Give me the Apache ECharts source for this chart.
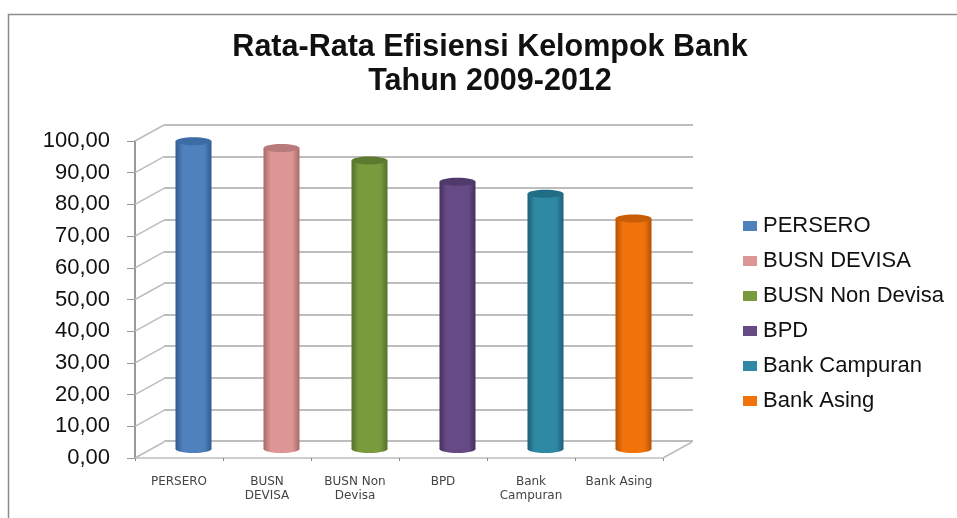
<!DOCTYPE html>
<html>
<head>
<meta charset="utf-8">
<style>html,body{margin:0;padding:0;background:#fff}#c{width:957px;height:518px}</style>
<script src="https://cdn.jsdelivr.net/npm/echarts@6/dist/echarts.min.js"></script>
</head>
<body>
<div id="c"></div>
<script>
const chartTitle = 'Rata-Rata Efisiensi Kelompok Bank\nTahun 2009-2012';
const axisCategories = ['PERSERO', 'BUSN\nDEVISA', 'BUSN Non\nDevisa', 'BPD', 'Bank\nCampuran', 'Bank Asing'];
const legendNames = ['PERSERO', 'BUSN DEVISA', 'BUSN Non Devisa', 'BPD', 'Bank Campuran', 'Bank Asing'];
const efficiency = [97.4, 95.3, 91.3, 84.6, 80.8, 73];
const valueTicks = [0, 10, 20, 30, 40, 50, 60, 70, 80, 90, 100];
const mainColors = ['#4f81bd', '#dd9595', '#7a9a3e', '#664a85', '#2f88a4', '#f2720c'];
const edgeColors = ['#2f5a8e', '#a86a6a', '#55702a', '#463060', '#1c6077', '#b05206'];
const capColors = ['#3c6ca3', '#b87a7a', '#5e7a2e', '#4f3a6b', '#226d86', '#c85f08'];

// Oblique projection of the box: how far the back wall sits from the front plane
const DEPTH_X = 29, DEPTH_Y = -16;
const WALL = '#bdbdbd';

const chart = echarts.init(document.getElementById('c'), null, { renderer: 'canvas' });

// Connecting strokes on the left side wall and the right floor edge
function renderWalls(params, api) {
  const v = api.value(0);
  const left = api.coord([0, v]);
  const x0 = params.coordSys.x;
  const children = [{
    type: 'line',
    shape: { x1: x0, y1: left[1], x2: x0 + DEPTH_X, y2: left[1] + DEPTH_Y },
    style: { stroke: WALL, lineWidth: 1.5 }
  }];
  if (v === 0) {
    const x1 = x0 + params.coordSys.width;
    children.push({
      type: 'line',
      shape: { x1: x1, y1: left[1], x2: x1 + DEPTH_X, y2: left[1] + DEPTH_Y },
      style: { stroke: WALL, lineWidth: 1.5 }
    });
  }
  return { type: 'group', children };
}

// A cylinder standing halfway between the front plane and the back wall
function renderCylinder(idx) {
  return function (params, api) {
    const top = api.coord([api.value(0), api.value(1)]);
    const base = api.coord([api.value(0), 0]);
    const cx = top[0] + DEPTH_X / 2, rx = 18, ry = 4;
    const ty = top[1] + DEPTH_Y / 2, by = base[1] + DEPTH_Y / 2 - 1;
    const fill = {
      type: 'linear', x: 0, y: 0, x2: 1, y2: 0,
      colorStops: [
        { offset: 0, color: edgeColors[idx] },
        { offset: 0.2, color: mainColors[idx] },
        { offset: 0.8, color: mainColors[idx] },
        { offset: 1, color: edgeColors[idx] }
      ]
    };
    return {
      type: 'group',
      children: [
        { type: 'ellipse', shape: { cx, cy: by, rx, ry }, style: { fill } },
        { type: 'rect', shape: { x: cx - rx, y: ty, width: rx * 2, height: by - ty }, style: { fill } },
        { type: 'ellipse', shape: { cx, cy: ty, rx, ry }, style: { fill: capColors[idx] } }
      ]
    };
  };
}

const cylinderSeries = legendNames.map((name, i) => ({
  type: 'custom',
  name,
  coordinateSystem: 'cartesian2d',
  xAxisIndex: 0,
  yAxisIndex: 0,
  z: 5,
  itemStyle: { color: mainColors[i] },
  encode: { x: 0, y: 1 },
  data: [[i, efficiency[i]]],
  renderItem: renderCylinder(i)
}));

chart.setOption({
  animation: false,
  backgroundColor: '#fff',
  title: {
    text: chartTitle,
    left: 485,
    top: 26,
    textAlign: 'center',
    textStyle: { fontFamily: 'Liberation Sans', fontSize: 30.5, fontWeight: 'bold', color: '#111', lineHeight: 34 }
  },
  legend: {
    orient: 'vertical',
    left: 738,
    top: 210,
    itemWidth: 14,
    itemHeight: 10,
    itemGap: 13,
    icon: 'rect',
    data: legendNames,
    selectedMode: false,
    textStyle: { fontFamily: 'Liberation Sans', fontSize: 22, color: '#111', padding: [0, 0, 0, 1] }
  },
  grid: [
    { left: 135, top: 141, width: 528, height: 317 },
    { left: 135 + DEPTH_X, top: 141 + DEPTH_Y, width: 529, height: 316 }
  ],
  xAxis: [
    {
      type: 'category', gridIndex: 0, data: axisCategories,
      axisLine: { lineStyle: { color: WALL, width: 1.5 } },
      axisTick: { show: true, length: 3, lineStyle: { color: '#888' } },
      axisLabel: { interval: 0, margin: 17, fontFamily: 'DejaVu Sans', fontSize: 12, lineHeight: 14, color: '#444' }
    },
    { type: 'category', gridIndex: 1, data: axisCategories, show: false }
  ],
  yAxis: [
    {
      type: 'value', gridIndex: 0, min: 0, max: 100, interval: 10,
      axisLine: { show: true, lineStyle: { color: '#999', width: 2 } },
      axisTick: { show: true, length: 8, lineStyle: { color: '#999' } },
      splitLine: { show: false },
      axisLabel: {
        margin: 25,
        padding: [2, 0, 0, 0],
        fontFamily: 'Liberation Sans', fontSize: 22, color: '#111',
        formatter: v => v.toFixed(2).replace('.', ',')
      }
    },
    {
      type: 'value', gridIndex: 1, min: 0, max: 100, interval: 10,
      axisLine: { show: false }, axisTick: { show: false }, axisLabel: { show: false },
      splitLine: { show: true, lineStyle: { color: WALL, width: 2 } }
    }
  ],
  graphic: [{
    type: 'polyline',
    silent: true,
    shape: { points: [[8.5, 518], [8.5, 14.5], [957, 14.5]] },
    style: { fill: 'none', stroke: '#8c8c8c', lineWidth: 1.5 }
  }],
  series: [
    {
      type: 'custom', coordinateSystem: 'cartesian2d', xAxisIndex: 0, yAxisIndex: 0,
      z: 1, silent: true,
      encode: { y: 0 },
      data: valueTicks.map(v => [v]),
      renderItem: renderWalls
    },
    ...cylinderSeries
  ]
});
</script>
</body>
</html>
